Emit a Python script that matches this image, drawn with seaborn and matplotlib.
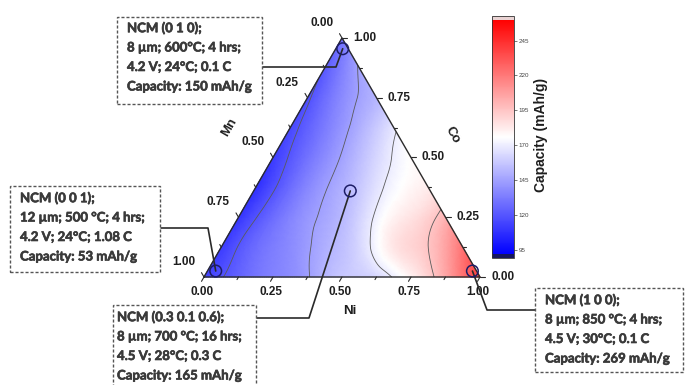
import numpy as np
import matplotlib
matplotlib.use("Agg")
import matplotlib.pyplot as plt
import matplotlib.tri as mtri
import matplotlib.patheffects as pe
from matplotlib.patches import Rectangle
import seaborn as sns
import pandas as pd

# ---------------- data ----------------
ni_step = 0.125
co_levels = [0.0, 0.125, 0.25, 0.375, 0.5, 0.625, 0.75, 0.875, 1.0]
# capacity (mAh/g) read along rows of constant Co, Ni = 0, 0.125, ...
cap_co_000 = [115, 125, 135, 144, 158, 163, 180, 205, 240]
cap_co_125 = [112, 128, 138, 150, 163, 184, 195, 222]
cap_co_250 = [110, 128, 142, 153, 172, 185, 201]
cap_co_375 = [108, 128, 144, 158, 174, 182]
cap_co_500 = [112, 130, 146, 163, 177]
cap_co_625 = [116, 133, 150, 168]
cap_co_750 = [118, 138, 152]
cap_co_875 = [122, 146]
cap_co_1000 = [130]
cap_rows = [cap_co_000, cap_co_125, cap_co_250, cap_co_375, cap_co_500,
            cap_co_625, cap_co_750, cap_co_875, cap_co_1000]

contour_levels = [120, 145, 170, 195]
cbar_ticks = [95, 120, 145, 170, 195, 220, 245]
cbar_min, cbar_max = 92, 260
axis_ticks = [0.0, 0.25, 0.5, 0.75, 1.0]
axis_tick_labels = ["0.00", "0.25", "0.50", "0.75", "1.00"]

sample_ni = [0.025, 0.03, 0.35, 0.96]
sample_co = [0.955, 0.025, 0.36, 0.025]
sample_text = [
    ["NCM (0 1 0);", "8 \u00b5m; 600\u00b0C; 4 hrs;", "4.2 V; 24\u00b0C; 0.1 C", "Capacity: 150 mAh/g"],
    ["NCM (0 0 1);", "12 \u00b5m; 500 \u00b0C; 4 hrs;", "4.2 V; 24\u00b0C; 1.08 C", "Capacity: 53 mAh/g"],
    ["NCM (0.3 0.1 0.6);", "8 \u00b5m; 700 \u00b0C; 16 hrs;", "4.5 V; 28\u00b0C; 0.3 C", "Capacity: 165 mAh/g"],
    ["NCM (1 0 0);", "8 \u00b5m; 850 \u00b0C; 4 hrs;", "4.5 V; 30\u00b0C; 0.1 C", "Capacity: 269 mAh/g"],
]

# ---------------- layout (pixels) ----------------
W, H = 688, 385
X0, Y0, S = 204, 277, 276          # triangle bottom-left pixel and side length
box_rects = [(117, 17, 262, 104), (10, 186, 160, 272), (113, 305, 256, 400), (535, 288, 683, 372)]
box_text_x = [127, 20, 117, 545]
box_line_y0 = [28, 198, 317, 300]
line_gap = 19.5
# leader lines: pixel waypoints from box towards marker (marker itself appended)
leaders = [[(262, 67), (336, 67)], [(160, 228), (208, 228)], [(256, 318), (309, 318)], [(535, 310), (487, 310)]]

sns.set_theme(style="white")
plt.rcParams['font.family'] = ['Liberation Sans', 'DejaVu Sans']

def tern(ni, co):
    ni = np.asarray(ni, float); co = np.asarray(co, float)
    return ni + co / 2.0, co * np.sqrt(3) / 2.0

def P(px, py):
    return (px - X0) / S, (Y0 - py) / S

fig = plt.figure(figsize=(W / 100, H / 100), dpi=100)
ax = fig.add_axes([0, 0, 1, 1])

# lattice field
ni_list, co_list, cap_list = [], [], []
for co, row in zip(co_levels, cap_rows):
    for j, v in enumerate(row):
        ni_list.append(j * ni_step); co_list.append(co); cap_list.append(v)
field = pd.DataFrame({"Ni": ni_list, "Co": co_list, "cap": cap_list})
fx, fy = tern(field["Ni"], field["Co"])
triang = mtri.Triangulation(fx, fy)
refiner = mtri.UniformTriRefiner(triang)
tri_r, z_r = refiner.refine_field(field["cap"].values.astype(float), subdiv=4)

cmap = plt.get_cmap('bwr').copy()
cmap.set_under('#16165e')
cmap.set_over('#ead3d3')
mesh = ax.tripcolor(tri_r, z_r, shading='gouraud', cmap=cmap, vmin=cbar_min, vmax=cbar_max, zorder=1)
ax.tricontour(tri_r, z_r, levels=contour_levels, colors='#5a5a5a', linewidths=0.6, zorder=2)

# triangle frame
cx, cy = tern([0, 1, 0, 0], [0, 0, 1, 0])
ax.plot(cx, cy, color='#2b2b2b', lw=1.0, zorder=3, solid_joinstyle='miter')

# ticks
L_major, L_minor = 5 / S, 3 / S
minor = [0.125, 0.375, 0.625, 0.875]
tick_kw = dict(color='#2b2b2b', lw=0.8, zorder=3)
lab_kw = dict(fontsize=8.5, fontweight='bold', color='#1e1e1e', zorder=4)
for t_list, L in ((axis_ticks, L_major), (minor, L_minor)):
    for t in t_list:
        x, y = tern(t, 0)
        ax.plot([x, x - 0.5 * L], [y, y - 0.866 * L], **tick_kw)
        x, y = tern(1 - t, t)
        ax.plot([x, x + L], [y, y], **tick_kw)
        x, y = tern(0, 1 - t)
        ax.plot([x, x - 0.5 * L], [y, y + 0.866 * L], **tick_kw)
for t, lab in zip(axis_ticks, axis_tick_labels):
    x, y = tern(t, 0)
    ax.text(x - 2 / S, y - 15 / S, lab, ha='center', va='center', **lab_kw)
    x, y = tern(1 - t, t)
    ax.text(x + 11 / S, y, lab, ha='left', va='center', **lab_kw)
    x, y = tern(0, 1 - t)
    ax.text(x - 20 / S, y + 15 / S, lab, ha='center', va='center', **lab_kw)

ax.text(*P(350, 311), "Ni", ha='center', va='center', fontsize=9.5, fontweight='bold', color='#1e1e1e')
ax.text(*P(229, 127), "Mn", ha='center', va='center', rotation=60, fontsize=9.5, fontweight='bold', color='#1e1e1e')
ax.text(*P(452, 135), "Co", ha='center', va='center', rotation=-60, fontsize=9.5, fontweight='bold', color='#1e1e1e')

# markers
sx, sy = tern(sample_ni, sample_co)
samples = pd.DataFrame({"x": sx, "y": sy})
sns.scatterplot(data=samples, x="x", y="y", ax=ax, s=70, facecolor='none',
                edgecolor='#1d1d66', linewidth=1.1, zorder=6, legend=False)

# leader lines
for pts, mx, my in zip(leaders, sx, sy):
    xs = [P(*p)[0] for p in pts] + [mx]
    ys = [P(*p)[1] for p in pts] + [my]
    ax.plot(xs, ys, color='#2a2a2a', lw=1.2, zorder=5)

# annotation boxes
stroke = [pe.withStroke(linewidth=0.45, foreground='#3a3a3a')]
for (l, t, r, b), tx, ty0, lines in zip(box_rects, box_text_x, box_line_y0, sample_text):
    x0, y0 = P(l, b)
    x1, y1 = P(r, t)
    ax.add_patch(Rectangle((x0, y0), x1 - x0, y1 - y0, fc='white', ec='#555555',
                           lw=1.0, ls=(0, (2.2, 1.4)), zorder=7))
    for k, s in enumerate(lines):
        ax.text(*P(tx, ty0 + k * line_gap), s, ha='left', va='center', fontsize=9.5,
                family=['Lato', 'DejaVu Sans'], fontweight='bold', color='#3a3a3a',
                zorder=8, path_effects=stroke)

ax.set_xlim(-X0 / S, (W - X0) / S)
ax.set_ylim((Y0 - H) / S, Y0 / S)
ax.axis('off')

# colorbar
cax = fig.add_axes([492 / W, (H - 258) / H, 22 / W, 242 / H])
cb = fig.colorbar(mesh, cax=cax, ticks=cbar_ticks, extend='both', extendrect=True, extendfrac=0.015)
cb.outline.set_linewidth(0.6)
cb.outline.set_edgecolor('#333333')
cax.tick_params(axis='y', labelsize=4.5, length=2, width=0.5, colors='#444444', pad=1.5)
fig.text(541 / W, 1 - 135 / H, "Capacity (mAh/g)", rotation=90, ha='center', va='center',
         fontsize=10, fontweight='bold', color='#1e1e1e')

fig.savefig("out.png", dpi=100)
